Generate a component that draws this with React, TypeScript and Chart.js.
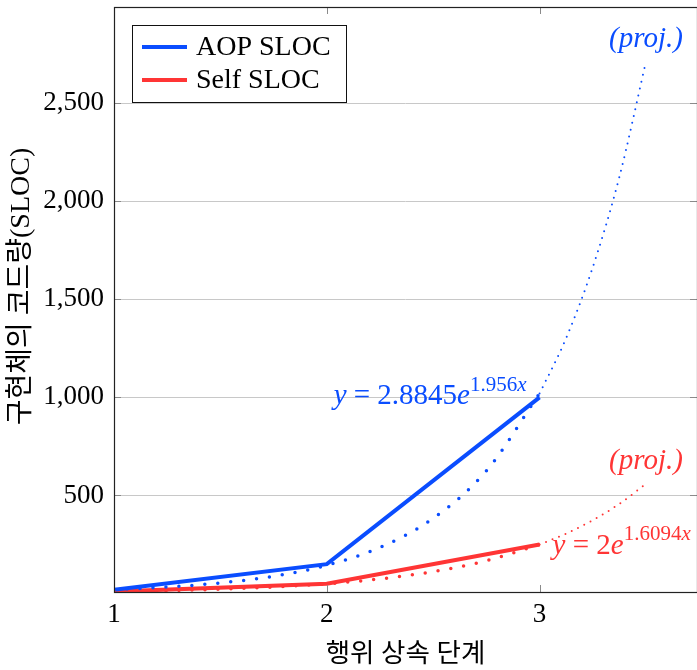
import React, { useEffect, useRef } from "react";
import { Chart, registerables } from "chart.js";

Chart.register(...registerables);

// ---- data ----
const stageX = [1, 2, 3];
const aopSloc = [20, 150, 1000];
const selfSloc = [10, 50, 250];

const fitX = [1, 1.25, 1.5, 1.75, 2, 2.25, 2.5, 2.75, 3];
const aopFit = [20.4, 33.3, 54.2, 88.4, 144.2, 235.2, 383.5, 625.4, 1019.7];
const selfFit = [10, 15.0, 22.4, 33.4, 50, 74.8, 111.8, 167.2, 250];

const projX = [3, 3.125, 3.25, 3.375, 3.5];
const aopProj = [1019.7, 1302, 1663, 2123, 2711];
const selfProj = [250, 305.7, 373.8, 457.1, 559];

const xTickValues = [1, 2, 3];
const yTickValues = [500, 1000, 1500, 2000, 2500];
const seriesNames = ["AOP SLOC", "Self SLOC"];
const xTitle = "행위 상속 단계";
const yTitle = "구현체의 코드량(SLOC)";

const BLUE = "#0a4dff";
const RED = "#ff3535";
const SERIF = '"Liberation Serif", "Noto Sans CJK KR", serif';

const pts = (xs: number[], ys: number[]) => xs.map((x, i) => ({ x, y: ys[i] }));

type Part = { t: string; it?: boolean; sup?: boolean };

function drawRich(
  ctx: CanvasRenderingContext2D,
  parts: Part[],
  x: number,
  y: number,
  align: "left" | "right" | "center",
  color: string,
  size = 29
) {
  const supSize = Math.round(size * 0.72);
  const fontOf = (p: Part) =>
    `${p.it ? "italic " : ""}${p.sup ? supSize : size}px ${SERIF}`;
  let total = 0;
  const widths = parts.map((p) => {
    ctx.font = fontOf(p);
    const w = ctx.measureText(p.t).width;
    total += w;
    return w;
  });
  let cx = align === "left" ? x : align === "right" ? x - total : x - total / 2;
  ctx.fillStyle = color;
  ctx.textAlign = "left";
  ctx.textBaseline = "alphabetic";
  parts.forEach((p, i) => {
    ctx.font = fontOf(p);
    ctx.fillText(p.t, cx, p.sup ? y - size * 0.45 : y);
    cx += widths[i];
  });
}

const overlay = {
  id: "overlay",
  afterDraw(chart: any) {
    const { ctx, chartArea, scales } = chart;
    const { left, top, right, bottom } = chartArea;
    const xs = scales.x;
    const ys = scales.y;
    ctx.save();

    // tick marks
    ctx.strokeStyle = "#8a8a8a";
    ctx.lineWidth = 1;
    yTickValues.forEach((v) => {
      const py = Math.round(ys.getPixelForValue(v)) + 0.5;
      ctx.beginPath();
      ctx.moveTo(left, py);
      ctx.lineTo(left + 7, py);
      ctx.moveTo(right - 7, py);
      ctx.lineTo(right, py);
      ctx.stroke();
    });
    xTickValues.forEach((v) => {
      const px = Math.round(xs.getPixelForValue(v)) + 0.5;
      ctx.beginPath();
      ctx.moveTo(px, top);
      ctx.lineTo(px, top + 7);
      ctx.moveTo(px, bottom - 7);
      ctx.lineTo(px, bottom);
      ctx.stroke();
    });

    // axis frame
    ctx.strokeStyle = "#222";
    ctx.lineWidth = 1.2;
    ctx.strokeRect(left + 0.5, top + 0.5, right - left, bottom - top);

    // legend
    const lx = left + 18;
    const ly = top + 18;
    const lw = 214;
    const lh = 77;
    ctx.fillStyle = "#fff";
    ctx.fillRect(lx, ly, lw, lh);
    ctx.strokeStyle = "#111";
    ctx.lineWidth = 1;
    ctx.strokeRect(lx + 0.5, ly + 0.5, lw, lh);
    const colors = [BLUE, RED];
    seriesNames.forEach((name, i) => {
      const cy = ly + 22 + i * 33;
      ctx.strokeStyle = colors[i];
      ctx.lineWidth = 4;
      ctx.beginPath();
      ctx.moveTo(lx + 10, cy);
      ctx.lineTo(lx + 55, cy);
      ctx.stroke();
      ctx.fillStyle = "#000";
      ctx.font = `28px ${SERIF}`;
      ctx.textAlign = "left";
      ctx.textBaseline = "middle";
      ctx.fillText(name, lx + 64, cy + 1);
    });

    // equation labels
    const bx = xs.getPixelForValue(stageX[2]);
    const byA = ys.getPixelForValue(aopSloc[2]);
    const byS = ys.getPixelForValue(selfSloc[2]);
    drawRich(
      ctx,
      [
        { t: "y", it: true },
        { t: " = 2.8845" },
        { t: "e", it: true },
        { t: "1.956", sup: true },
        { t: "x", it: true, sup: true },
      ],
      bx - 13,
      byA + 7,
      "right",
      BLUE
    );
    drawRich(
      ctx,
      [
        { t: "y", it: true },
        { t: " = 2" },
        { t: "e", it: true },
        { t: "1.6094", sup: true },
        { t: "x", it: true, sup: true },
      ],
      bx + 13,
      byS + 9,
      "left",
      RED
    );
    const px = xs.getPixelForValue(projX[projX.length - 1]);
    drawRich(
      ctx,
      [{ t: "(proj.)", it: true }],
      px,
      ys.getPixelForValue(aopProj[aopProj.length - 1]) - 15,
      "center",
      BLUE,
      29
    );
    drawRich(
      ctx,
      [{ t: "(proj.)", it: true }],
      px,
      ys.getPixelForValue(selfProj[selfProj.length - 1]) - 15,
      "center",
      RED,
      29
    );

    // axis titles
    ctx.fillStyle = "#000";
    ctx.textAlign = "center";
    ctx.textBaseline = "middle";
    ctx.font = `26.5px ${SERIF}`;
    ctx.fillText(xTitle, (left + right) / 2, 655);
    ctx.save();
    ctx.font = `28px ${SERIF}`;
    ctx.translate(22, (top + bottom) / 2 - 13);
    ctx.rotate(-Math.PI / 2);
    ctx.fillText(yTitle, 0, 0);
    ctx.restore();

    ctx.restore();
  },
};

export default function App() {
  const ref = useRef<HTMLCanvasElement | null>(null);
  useEffect(() => {
    if (!ref.current) return;
    const chart = new Chart(ref.current, {
      type: "line",
      data: {
        datasets: [
          {
            label: "AOP fit",
            data: pts(fitX, aopFit),
            borderColor: BLUE,
            borderWidth: 3.5,
            borderDash: [0, 13],
            borderCapStyle: "round",
            pointRadius: 0,
            cubicInterpolationMode: "monotone",
          },
          {
            label: "Self fit",
            data: pts(fitX, selfFit),
            borderColor: RED,
            borderWidth: 3.5,
            borderDash: [0, 13],
            borderCapStyle: "round",
            pointRadius: 0,
            cubicInterpolationMode: "monotone",
          },
          {
            label: "AOP proj",
            data: pts(projX, aopProj),
            borderColor: BLUE,
            borderWidth: 2,
            borderDash: [0, 7],
            borderCapStyle: "round",
            pointRadius: 0,
            cubicInterpolationMode: "monotone",
          },
          {
            label: "Self proj",
            data: pts(projX, selfProj),
            borderColor: RED,
            borderWidth: 2,
            borderDash: [0, 7],
            borderCapStyle: "round",
            pointRadius: 0,
            cubicInterpolationMode: "monotone",
          },
          {
            label: seriesNames[0],
            data: pts(stageX, aopSloc),
            borderColor: BLUE,
            borderWidth: 4,
            pointRadius: 0,
            tension: 0,
          },
          {
            label: seriesNames[1],
            data: pts(stageX, selfSloc),
            borderColor: RED,
            borderWidth: 4,
            pointRadius: 0,
            tension: 0,
          },
        ],
      },
      options: {
        animation: false,
        responsive: false,
        maintainAspectRatio: false,
        layout: { padding: { left: 0, top: 7, right: 0, bottom: 0 } },
        plugins: { legend: { display: false }, tooltip: { enabled: false } },
        scales: {
          x: {
            type: "linear",
            min: 1,
            max: 3.74,
            afterBuildTicks: (s: any) => {
              s.ticks = xTickValues.map((v) => ({ value: v }));
            },
            afterFit: (s: any) => {
              s.height = 78;
              s.paddingLeft = 0;
              s.paddingRight = 0;
            },
            grid: { display: false, drawTicks: false },
            border: { display: false },
            ticks: {
              color: "#000",
              padding: 7,
              font: { family: SERIF, size: 27 },
              maxRotation: 0,
              callback: (v: any) => String(v),
            },
          },
          y: {
            type: "linear",
            min: 8,
            max: 2990,
            afterBuildTicks: (s: any) => {
              s.ticks = yTickValues.map((v) => ({ value: v }));
            },
            afterFit: (s: any) => {
              s.width = 114;
              s.paddingTop = 0;
              s.paddingBottom = 0;
            },
            grid: { color: "#c8c8c8", lineWidth: 1, drawTicks: false },
            border: { display: false },
            ticks: {
              color: "#000",
              padding: 10,
              font: { family: SERIF, size: 27 },
              callback: (v: any) => Number(v).toLocaleString("en-US"),
            },
          },
        },
      },
      plugins: [overlay],
    });
    return () => chart.destroy();
  }, []);
  return (
    <div style={{ position: "absolute", left: 0, top: 0, width: 697, height: 670, background: "#fff" }}>
      <canvas ref={ref} width={697} height={670} style={{ display: "block" }} />
    </div>
  );
}
